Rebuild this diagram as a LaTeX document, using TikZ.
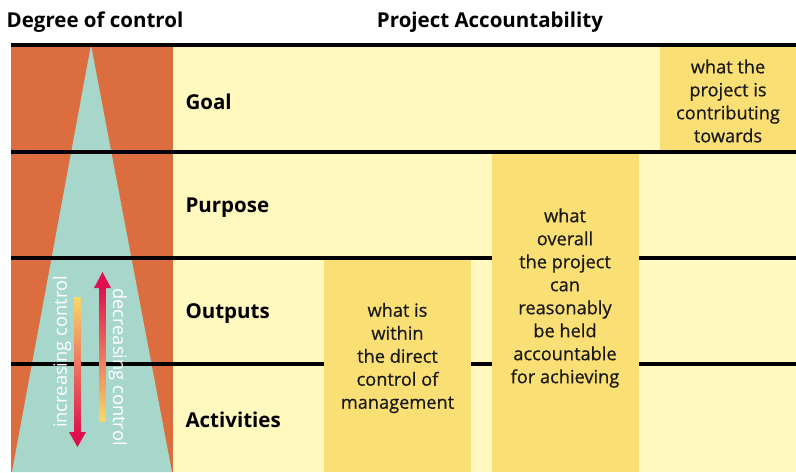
\documentclass[tikz,border=0pt]{standalone}
\usepackage{fontspec}
\setmainfont{Open Sans}
\newfontfamily\medfont[FakeBold=0.6]{Open Sans}
\usepackage{tikz}
\definecolor{ochre}{HTML}{DC6D3F}
\definecolor{teal}{HTML}{A7D7CB}
\definecolor{paleyel}{HTML}{FFF9C0}
\definecolor{colyel}{HTML}{FADF75}
\definecolor{crimson}{HTML}{E0104F}
\definecolor{arryel}{HTML}{F9D86A}
\tikzset{
  rowlabel/.style={anchor=west, font=\bfseries\fontsize{20.5}{22}\selectfont},
  coltext/.style={align=center, text=black!90, font=\medfont\fontsize{18.2}{23}\selectfont},
  header/.style={font=\bfseries\fontsize{20.5}{22}\selectfont},
  sidetext/.style={text=white, font=\fontsize{18.3}{20}\selectfont},
  rowline/.style={line width=3.6pt}
}
\begin{document}
\begin{tikzpicture}[x=1pt, y=-1pt]
		\useasboundingbox (0,0) rectangle (796,472);
		% backgrounds
		\fill[paleyel] (173,45) rectangle (796,472);
		\fill[ochre] (11,45) rectangle (173,472);
		\fill[teal] (91,45) -- (12,472) -- (172,472) -- cycle;
		\fill[colyel] (324,258) rectangle (471,472);
		\fill[colyel] (492,152) rectangle (639,472);
		\fill[colyel] (660,45) rectangle (796,152);
		% row lines
		\draw[rowline] (11,45) -- (796,45);
		\draw[rowline] (11,152) -- (796,152);
		\draw[rowline] (11,258) -- (492,258);
		\draw[rowline] (639,258) -- (796,258);
		\draw[rowline] (11,364) -- (324,364);
		\draw[rowline] (471,364) -- (492,364);
		\draw[rowline] (639,364) -- (796,364);
		% headers
		\node[header] (degree) at (95,22) {Degree of control};
		\node[header] (account) at (490,22) {Project Accountability};
		% rows
		\node[rowlabel] (goal) at (182,102) {Goal};
		\node[rowlabel] (purpose) at (182,208) {Purpose};
		\node[rowlabel] (outputs) at (182,314) {Outputs};
		\node[rowlabel] (activities) at (182,420) {Activities};
		% columns
		\node[coltext] (mgmt) at (397.5,358) {what is\\ within\\ the direct\\ control of\\ management};
		\node[coltext] (overall) at (565,298) {what\\ overall\\ the project\\ can\\ reasonably\\ be held\\ accountable\\ for achieving};
		\node[coltext] (contrib) at (728,101) {what the\\ project is\\ contributing\\ towards};
		% control arrows
		\shade[top color=arryel, bottom color=crimson] (74.5,297) rectangle (80.5,433);
		\fill[crimson] (69,432) -- (86,432) -- (77.5,447) -- cycle;
		\shade[top color=crimson, bottom color=arryel] (99.5,287) rectangle (105.5,421);
		\fill[crimson] (94,288) -- (111,288) -- (102.5,272) -- cycle;
		\node[sidetext, rotate=90] (incr) at (62,352) {increasing control};
		\node[sidetext, rotate=-90] (decr) at (118,367) {decreasing control};
	\end{tikzpicture}
\end{document}
